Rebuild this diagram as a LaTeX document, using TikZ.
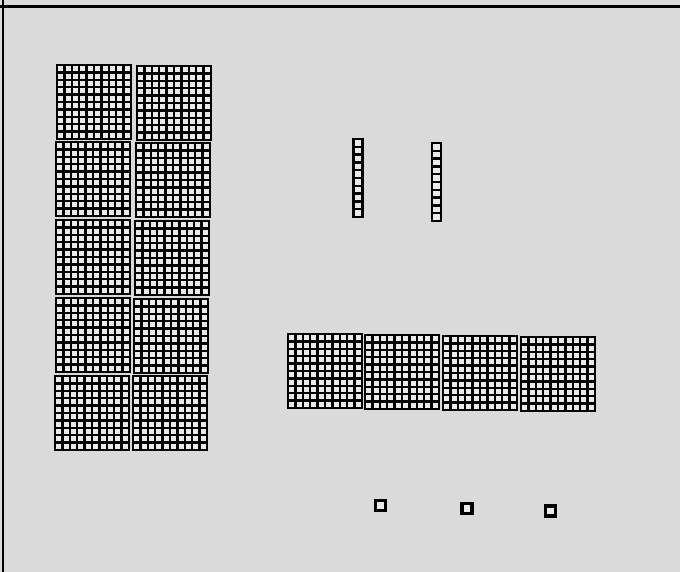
\documentclass[tikz,border=0pt]{standalone}
\usepackage{tikz}
\usetikzlibrary{positioning}
\definecolor{bgGray}{RGB}{218,218,218}
\definecolor{cellGray}{RGB}{234,234,234}

\begin{document}
\begin{tikzpicture}[
    x=1pt, y=-1pt,
    gridline/.style={draw=black, line width=2.4pt, line cap=rect},
    frameline/.style={draw=black, line width=2.8pt},
    hundred/.pic={
      \fill[cellGray] (0,0) rectangle (74,74);
      \foreach \i in {0,...,10} {
        \draw[gridline] (\i*7.4,0) -- (\i*7.4,74);
        \draw[gridline] (0,\i*7.4) -- (74,\i*7.4);
      }
    },
    tenrod/.pic={
      \fill[cellGray] (0,0) rectangle (9,78);
      \draw[gridline] (0,0) -- (0,78);
      \draw[gridline] (9,0) -- (9,78);
      \foreach \i in {0,...,10} {
        \draw[gridline] (0,\i*7.8) -- (9,\i*7.8);
      }
    },
    unitcube/.pic={
      \draw[gridline, line width=3.6pt, fill=cellGray] (0,0) rectangle (10,10);
    }
  ]
    % background and frame
    \fill[bgGray] (0,0) rectangle (680,572);
    \useasboundingbox (0,0) rectangle (680,572);
    \draw[frameline] (0,6.5) -- (680,6.5);
    \draw[frameline] (3,0) -- (3,572);

    % ten hundreds, two columns
    \pic (hA1) at (57,65) {hundred};
    \pic (hA2) at (56,142) {hundred};
    \pic (hA3) at (56,220) {hundred};
    \pic (hA4) at (56,298) {hundred};
    \pic (hA5) at (55,376) {hundred};
    \pic (hB1) at (137,66) {hundred};
    \pic (hB2) at (136,143) {hundred};
    \pic (hB3) at (135,221) {hundred};
    \pic (hB4) at (134,299) {hundred};
    \pic (hB5) at (133,376) {hundred};

    % two tens
    \pic (t1) at (353.5,139) {tenrod};
    \pic (t2) at (432,143) {tenrod};

    % four hundreds in a row
    \pic (h1) at (288,334) {hundred};
    \pic (h2) at (365,335) {hundred};
    \pic (h3) at (443,336) {hundred};
    \pic (h4) at (521,337) {hundred};

    % three ones
    \pic (u1) at (375.5,500.5) {unitcube};
    \pic (u2) at (462,503.5) {unitcube};
    \pic (u3) at (545.5,506) {unitcube};
\end{tikzpicture}
\end{document}
